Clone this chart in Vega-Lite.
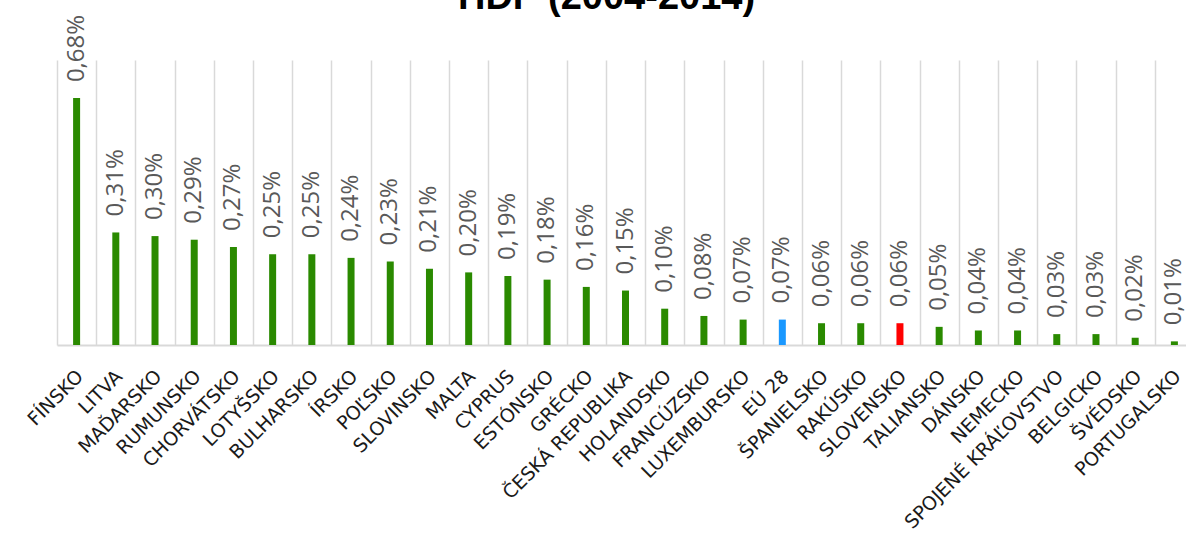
{
  "$schema": "https://vega.github.io/schema/vega-lite/v6.json",
  "autosize": {"type": "none"},
  "width": 1129,
  "height": 285,
  "padding": {"left": 57, "top": 60, "right": 0, "bottom": 210},
  "title": {
    "text": "HDP (2004-2014)",
    "font": "Liberation Sans",
    "fontSize": 38,
    "fontWeight": "bold",
    "color": "#000000",
    "anchor": "middle",
    "frame": "group",
    "baseline": "alphabetic",
    "dx": -15,
    "offset": -32
  },
  "config": {
    "view": {"stroke": null},
    "locale": {"number": {"decimal": ",", "thousands": " ", "grouping": [3], "currency": ["", " €"]}}
  },
  "data": {
    "values": [
      {"krajina": "FÍNSKO", "hodnota": 0.0068, "typ": "krajina"},
      {"krajina": "LITVA", "hodnota": 0.0031, "typ": "krajina"},
      {"krajina": "MAĎARSKO", "hodnota": 0.0030, "typ": "krajina"},
      {"krajina": "RUMUNSKO", "hodnota": 0.0029, "typ": "krajina"},
      {"krajina": "CHORVÁTSKO", "hodnota": 0.0027, "typ": "krajina"},
      {"krajina": "LOTYŠSKO", "hodnota": 0.0025, "typ": "krajina"},
      {"krajina": "BULHARSKO", "hodnota": 0.0025, "typ": "krajina"},
      {"krajina": "ÍRSKO", "hodnota": 0.0024, "typ": "krajina"},
      {"krajina": "POĽSKO", "hodnota": 0.0023, "typ": "krajina"},
      {"krajina": "SLOVINSKO", "hodnota": 0.0021, "typ": "krajina"},
      {"krajina": "MALTA", "hodnota": 0.0020, "typ": "krajina"},
      {"krajina": "CYPRUS", "hodnota": 0.0019, "typ": "krajina"},
      {"krajina": "ESTÓNSKO", "hodnota": 0.0018, "typ": "krajina"},
      {"krajina": "GRÉCKO", "hodnota": 0.0016, "typ": "krajina"},
      {"krajina": "ČESKÁ REPUBLIKA", "hodnota": 0.0015, "typ": "krajina"},
      {"krajina": "HOLANDSKO", "hodnota": 0.0010, "typ": "krajina"},
      {"krajina": "FRANCÚZSKO", "hodnota": 0.0008, "typ": "krajina"},
      {"krajina": "LUXEMBURSKO", "hodnota": 0.0007, "typ": "krajina"},
      {"krajina": "EÚ 28", "hodnota": 0.0007, "typ": "EÚ"},
      {"krajina": "ŠPANIELSKO", "hodnota": 0.0006, "typ": "krajina"},
      {"krajina": "RAKÚSKO", "hodnota": 0.0006, "typ": "krajina"},
      {"krajina": "SLOVENSKO", "hodnota": 0.0006, "typ": "Slovensko"},
      {"krajina": "TALIANSKO", "hodnota": 0.0005, "typ": "krajina"},
      {"krajina": "DÁNSKO", "hodnota": 0.0004, "typ": "krajina"},
      {"krajina": "NEMECKO", "hodnota": 0.0004, "typ": "krajina"},
      {"krajina": "SPOJENÉ KRÁĽOVSTVO", "hodnota": 0.0003, "typ": "krajina"},
      {"krajina": "BELGICKO", "hodnota": 0.0003, "typ": "krajina"},
      {"krajina": "ŠVÉDSKO", "hodnota": 0.0002, "typ": "krajina"},
      {"krajina": "PORTUGALSKO", "hodnota": 0.0001, "typ": "krajina"}
    ]
  },
  "encoding": {
    "x": {
      "field": "krajina",
      "type": "nominal",
      "sort": null,
      "scale": {"range": [0, 1137], "paddingInner": 0, "paddingOuter": 0},
      "axis": {
        "title": null,
        "ticks": false,
        "grid": true,
        "tickBand": "extent",
        "gridColor": "#d9d9d9",
        "gridWidth": 1.5,
        "domainColor": "#d9d9d9",
        "domainWidth": 2,
        "labelAngle": -45,
        "labelAlign": "right",
        "labelBaseline": "middle",
        "labelFont": "DejaVu Sans",
        "labelFontSize": 19,
        "labelColor": "#1a1a1a",
        "labelPadding": 28,
        "labelOffset": 3,
        "labelLimit": 400,
        "labelOverlap": false
      }
    },
    "y": {
      "field": "hodnota",
      "type": "quantitative",
      "scale": {"domain": [0, 0.00785], "nice": false},
      "axis": null
    }
  },
  "layer": [
    {
      "mark": {"type": "bar", "width": 7},
      "encoding": {
        "color": {
          "field": "typ",
          "type": "nominal",
          "scale": {"domain": ["krajina", "EÚ", "Slovensko"], "range": ["#2a8a00", "#1a98ff", "#ff0000"]},
          "legend": null
        }
      }
    },
    {
      "mark": {
        "type": "text",
        "angle": 270,
        "align": "left",
        "baseline": "middle",
        "dx": 16,
        "font": "Open Sans",
        "fontSize": 24,
        "color": "#595959"
      },
      "encoding": {
        "text": {"field": "hodnota", "type": "quantitative", "format": ".2%"}
      }
    }
  ]
}
